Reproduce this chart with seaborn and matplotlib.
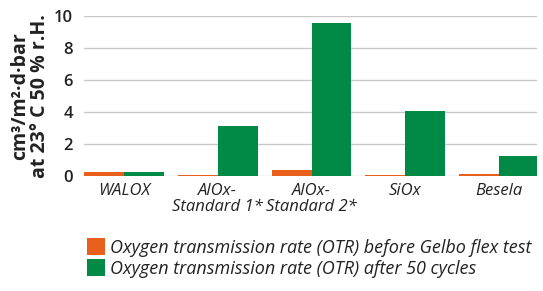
import pandas as pd
import matplotlib
matplotlib.use("Agg")
import matplotlib.pyplot as plt
import seaborn as sb

materials = ["WALOX", "AlOx-\nStandard 1*", "AlOx-\nStandard 2*", "SiOx", "Besela"]
otr_before = [0.25, 0.06, 0.38, 0.06, 0.1]
otr_after = [0.25, 3.12, 9.56, 4.06, 1.25]
series = ["Oxygen transmission rate (OTR) before Gelbo flex test",
          "Oxygen transmission rate (OTR) after 50 cycles"]
colors = ["#E8601C", "#008A45"]

df = pd.DataFrame({
    "material": materials * 2,
    "otr": otr_before + otr_after,
    "series": [series[0]] * len(materials) + [series[1]] * len(materials),
})

sb.set_style("white")
plt.rcParams["font.family"] = ["Open Sans", "DejaVu Sans"]

fig = plt.figure(figsize=(5.43, 2.91), dpi=100)
ax = fig.add_axes([0.155, 0.395, 0.834, 0.55])

sb.barplot(data=df, x="material", y="otr", hue="series", palette=colors,
           width=0.85, gap=0, saturation=1, linewidth=0, ax=ax, legend=True)

ax.set_ylim(0, 10)
ax.set_xlim(-0.425, 4.405)
ax.set_yticks([0, 2, 4, 6, 8, 10])
ax.yaxis.grid(True, color="#c8c8c8", linewidth=1)
ax.set_axisbelow(True)
for s in ax.spines.values():
    s.set_visible(False)
ax.tick_params(axis="both", length=0, labelsize=12, colors="#222222")
ax.tick_params(axis="y", pad=8)
ax.tick_params(axis="x", pad=5)
for lbl in ax.get_xticklabels():
    lbl.set_fontstyle("italic")
    lbl.set_linespacing(1.0)
for lbl in ax.get_yticklabels():
    lbl.set_fontweight("semibold")
ax.set_xlabel("")
ax.set_ylabel("cm³/m²·d·bar\nat 23° C 50 % r.H.", fontsize=14, fontweight="bold",
              color="#222222", labelpad=3, linespacing=1.0)

handles, labels = ax.get_legend_handles_labels()
ax.get_legend().remove()
leg = fig.legend(handles, labels, loc="lower left", bbox_to_anchor=(0.13, -0.01),
                 frameon=False, fontsize=13, handlelength=1.0, handleheight=1.0,
                 handletextpad=0.3, labelspacing=0.15)
for t in leg.get_texts():
    t.set_fontstyle("italic")
    t.set_color("#222222")

fig.savefig("out.png", dpi=100)
